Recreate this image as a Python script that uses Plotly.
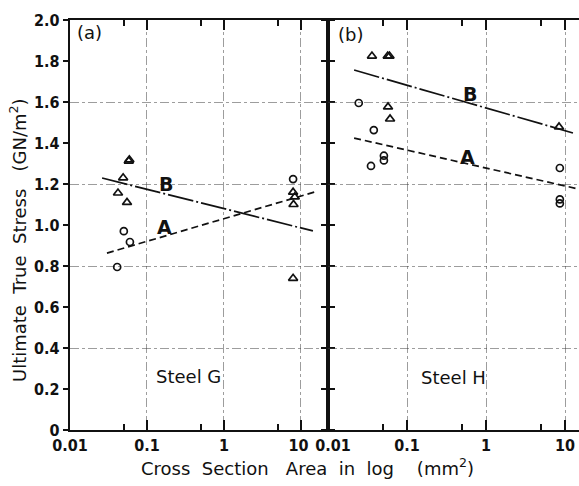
import plotly.graph_objects as go

# ---------------- data ----------------
# Panel (a) Steel G
g_circ_x = [0.041, 0.050, 0.060, 7.9]
g_circ_y = [0.795, 0.97, 0.917, 1.224]
g_tri_x = [0.058, 0.059, 0.049, 0.042, 0.055, 7.9, 8.3, 8.0, 7.9]
g_tri_y = [1.312, 1.318, 1.23, 1.156, 1.11, 1.16, 1.137, 1.10, 0.74]
g_lineA_x = [0.0302, 15.1]
g_lineA_y = [0.863, 1.161]
g_lineB_x = [0.0261, 14.3]
g_lineB_y = [1.229, 0.971]

# Panel (b) Steel H
h_circ_x = [0.0245, 0.038, 0.051, 0.051, 0.035, 8.6, 8.6, 8.6]
h_circ_y = [1.595, 1.463, 1.315, 1.338, 1.288, 1.278, 1.105, 1.125]
h_tri_x = [0.036, 0.057, 0.060, 0.0575, 0.061, 8.4]
h_tri_y = [1.824, 1.824, 1.824, 1.576, 1.517, 1.478]
h_lineA_x = [0.0214, 14.6]
h_lineA_y = [1.424, 1.176]
h_lineB_x = [0.0214, 12.6]
h_lineB_y = [1.756, 1.449]

x_tickvals = [0.01, 0.1, 1, 10]
x_ticktext_a = ["0.01", "0.1", "1", "10\u00a0"]
x_ticktext_b = ["\u00a0\u00a00.01", "0.1", "1", "10"]
x_minor = [0.05, 0.5, 5]
y_tickvals = [0, 0.2, 0.4, 0.6, 0.8, 1.0, 1.2, 1.4, 1.6, 1.8, 2.0]
y_ticktext = ["0", "0.2", "0.4", "0.6", "0.8", "1.0", "1.2", "1.4", "1.6", "1.8", "2.0"]
y_grid = [0.4, 0.8, 1.2, 1.6]

INK = "#111111"
GRID = "rgba(60,60,60,0.5)"
TICKFONT = "DejaVu Sans Condensed, DejaVu Sans"
TEXTFONT = "DejaVu Sans"

fig = go.Figure()

def add_panel(xa, ya, cx, cy, tx, ty, ax_, ay_, bx_, by_):
    fig.add_trace(go.Scatter(x=ax_, y=ay_, mode="lines", xaxis=xa, yaxis=ya,
                             line=dict(color=INK, width=1.7, dash="7px,4px"), showlegend=False))
    fig.add_trace(go.Scatter(x=bx_, y=by_, mode="lines", xaxis=xa, yaxis=ya,
                             line=dict(color=INK, width=1.7, dash="26px,3px,2px,3px"), showlegend=False))
    fig.add_trace(go.Scatter(x=cx, y=cy, mode="markers", xaxis=xa, yaxis=ya,
                             marker=dict(symbol="circle-open", size=7, color=INK, line=dict(width=1.7)),
                             showlegend=False))
    fig.add_trace(go.Scatter(x=tx, y=ty, mode="markers", xaxis=xa, yaxis=ya,
                             marker=dict(symbol="triangle-up-open", size=8, color=INK, line=dict(width=1.7)),
                             showlegend=False))

add_panel("x", "y", g_circ_x, g_circ_y, g_tri_x, g_tri_y, g_lineA_x, g_lineA_y, g_lineB_x, g_lineB_y)
add_panel("x2", "y2", h_circ_x, h_circ_y, h_tri_x, h_tri_y, h_lineA_x, h_lineA_y, h_lineB_x, h_lineB_y)

W, H = 579, 486
ybot = (H - 430) / H
ytop = (H - 20) / H
xa0, xa1 = 70 / W, 328 / W

tickfont = dict(family=TICKFONT, size=16, color=INK, weight="bold")

xcommon = dict(type="log", tickvals=x_tickvals, automargin=False,
               ticks="inside", ticklen=10, tickwidth=1.5, tickcolor=INK,
               showline=True, linewidth=2.4, linecolor=INK, mirror="ticks",
               showgrid=True, gridcolor=GRID, gridwidth=1, griddash="dashdot",
               zeroline=False, tickfont=tickfont,
               minor=dict(tickvals=x_minor, ticks="inside", ticklen=6, tickwidth=1.5,
                          tickcolor=INK, showgrid=False))

ycommon = dict(range=[0, 2.0], tickvals=y_tickvals, ticktext=y_ticktext, automargin=False,
               ticks="outside", ticklen=5, tickwidth=1.5, tickcolor=INK,
               showline=True, linewidth=2.4, linecolor=INK,
               showgrid=False, zeroline=False,
               minor=dict(tickvals=y_grid, ticks="", showgrid=True, gridcolor=GRID,
                          gridwidth=1, griddash="dashdot"),
               domain=[ybot, ytop])

fig.update_layout(
    width=W, height=H, margin=dict(l=0, r=0, t=0, b=0, pad=0),
    paper_bgcolor="white", plot_bgcolor="white",
    font=dict(family=TEXTFONT, color=INK),
    xaxis=dict(**xcommon, ticktext=x_ticktext_a, domain=[xa0, xa1], range=[-2, 1.351], anchor="y"),
    xaxis2=dict(**xcommon, ticktext=x_ticktext_b, domain=[xa1, 1.0], range=[-2, 1.177], anchor="y2"),
    yaxis=dict(**ycommon, anchor="x", mirror="ticks", tickfont=tickfont),
    yaxis2=dict(**ycommon, anchor="x2", showticklabels=False),
)

ann_font = dict(family=TEXTFONT, size=18, color=INK)
lbl_font = dict(family=TEXTFONT, size=19, color=INK, weight="bold")
C = dict(showarrow=False, xanchor="center", yanchor="middle", font=ann_font)
L = dict(showarrow=False, xanchor="center", yanchor="middle", font=lbl_font)
annotations = [
    dict(text="(a)", x=89 / W, y=(H - 32) / H, xref="paper", yref="paper", **C),
    dict(text="(b)", x=350 / W, y=(H - 35) / H, xref="paper", yref="paper", **C),
    dict(text="B", x=-0.75, y=1.2, xref="x", yref="y", **L),
    dict(text="A", x=-0.77, y=0.99, xref="x", yref="y", **L),
    dict(text="B", x=-0.205, y=1.64, xref="x2", yref="y2", **L),
    dict(text="A", x=-0.23, y=1.33, xref="x2", yref="y2", **L),
    dict(text="Steel G", x=188 / W, y=(H - 376) / H, xref="paper", yref="paper", **C),
    dict(text="Steel H", x=453 / W, y=(H - 377) / H, xref="paper", yref="paper", **C),
    dict(text="Ultimate  True  Stress   (GN/m<sup>2</sup>)", x=18 / W, y=(H - 240) / H,
         xref="paper", yref="paper", textangle=-90, **C),
    dict(text="Cross  Section   Area  in  log    (mm<sup>2</sup>)", x=307 / W, y=(H - 467) / H,
         xref="paper", yref="paper", **C),
]
fig.update_layout(annotations=annotations)

fig.write_html("out.html")
